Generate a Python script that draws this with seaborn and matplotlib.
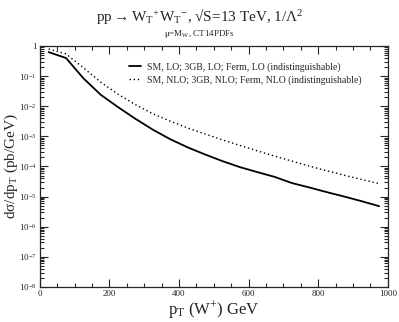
import matplotlib

matplotlib.use("Agg")
import matplotlib.pyplot as plt
import matplotlib.ticker as mticker
import numpy as np
import pandas as pd
import seaborn as sns

# p_T bin centres (GeV)
pt = [25, 75, 125, 175, 225, 275, 325, 375, 425, 475,
      525, 575, 625, 675, 725, 775, 825, 875, 925, 975]
# LO (SM / 3GB / Ferm, indistinguishable)
lo = [0.63, 0.40, 0.085, 0.024, 9.3e-3, 3.8e-3, 1.66e-3, 8.0e-4, 4.3e-4, 2.5e-4,
      1.5e-4, 9.5e-5, 6.5e-5, 4.5e-5, 2.8e-5, 2.0e-5, 1.4e-5, 1.0e-5, 7.0e-6, 4.8e-6]
# NLO
nlo = [0.80, 0.55, 0.19, 0.063, 0.025, 1.12e-2, 5.6e-3, 3.2e-3, 1.9e-3, 1.2e-3,
       7.6e-4, 5.0e-4, 3.3e-4, 2.2e-4, 1.5e-4, 1.02e-4, 7.2e-5, 5.1e-5, 3.7e-5, 2.7e-5]

lo_label = "SM, LO; 3GB, LO; Ferm, LO (indistinguishable)"
nlo_label = "SM, NLO; 3GB, NLO; Ferm, NLO (indistinguishable)"

sns.set_style("ticks")
plt.rcParams["font.family"] = ["Liberation Serif", "DejaVu Serif"]
plt.rcParams["mathtext.fontset"] = "custom"
plt.rcParams["mathtext.rm"] = "Liberation Serif"
plt.rcParams["mathtext.it"] = "Liberation Serif"

df = pd.DataFrame({"pt": pt * 2, "val": lo + nlo,
                   "set": [lo_label] * len(pt) + [nlo_label] * len(pt)})

fig = plt.figure(figsize=(3.99, 3.22), dpi=100)
ax = fig.add_axes([0.100, 0.109, 0.872, 0.748])

sns.lineplot(data=df[df["set"] == lo_label], x="pt", y="val", color="black",
             linewidth=1.3, ax=ax, label=lo_label)
sns.lineplot(data=df[df["set"] == nlo_label], x="pt", y="val", color="black",
             linewidth=1.0, linestyle=(0, (1, 2)), ax=ax, label=nlo_label)

ax.set_yscale("log")
ax.set_xlim(0, 1000)
ax.set_ylim(1e-8, 1)
ax.xaxis.set_major_locator(mticker.MultipleLocator(200))
ax.xaxis.set_minor_locator(mticker.MultipleLocator(50))
ax.yaxis.set_major_locator(mticker.LogLocator(base=10, numticks=20))
ax.yaxis.set_minor_locator(mticker.LogLocator(base=10, subs=np.arange(2, 10), numticks=20))
ax.yaxis.set_minor_formatter(mticker.NullFormatter())
ax.yaxis.set_major_formatter(mticker.FuncFormatter(
    lambda v, _: "1" if abs(v - 1) < 1e-9 else r"$10^{%d}$" % round(np.log10(v))))

ax.tick_params(which="both", direction="in", top=True, right=True, labelsize=6.5,
               width=0.8, pad=2.5)
ax.tick_params(which="major", length=6)
ax.tick_params(which="minor", length=3)
for s in ax.spines.values():
    s.set_linewidth(0.9)

ax.set_xlabel(r"p$_\mathrm{T}$ (W$^{+}$) GeV", fontsize=12)
ax.set_ylabel(r"d$\sigma$/dp$_\mathrm{T}$ (pb/GeV)", fontsize=11)
ax.xaxis.set_label_coords(0.5, -0.05)
ax.yaxis.set_label_coords(-0.058, 0.5)

fig.text(0.5, 0.95, r"pp$\rightarrow$W$_\mathrm{T}$$^{+}$W$_\mathrm{T}$$^{-}$, √S=13 TeV, 1/$\Lambda^2$",
         ha="center", va="center", fontsize=11)
fig.text(0.5, 0.893, r"$\mu$=M$_\mathrm{W}$, CT14PDFs", ha="center", va="center",
         fontsize=6.5)

ax.legend(loc="upper left", bbox_to_anchor=(0.23, 0.97), frameon=False,
          fontsize=7, handlelength=1.3, handletextpad=0.6, labelspacing=0.35)

fig.savefig("out.png", dpi=100)
